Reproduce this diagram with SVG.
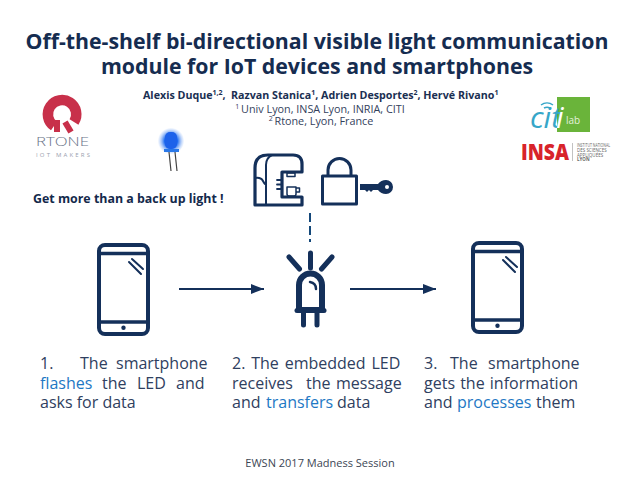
<svg xmlns="http://www.w3.org/2000/svg" width="640" height="480" viewBox="0 0 640 480">
<style>
text{font-family:"Open Sans","DejaVu Sans",sans-serif;fill:#14294b}
.title{font-size:21.3px;font-weight:700;text-anchor:middle;fill:#152c50}
.auth{font-size:10.7px;font-weight:700;fill:#1a2f52}
.aff{font-size:10.8px;text-anchor:middle;fill:#33415c}
.body{font-size:16px;fill:#2f4060}
.hl{fill:#1e78c4}
.ln{fill:none;stroke:#14305a;stroke-linecap:round;stroke-linejoin:round}
.fl{fill:#14305a}
.red{fill:none;stroke:#c8304a}
.sm{font-size:4.500px;fill:#666}
</style>
<defs>
<marker id="ah" markerUnits="userSpaceOnUse" markerWidth="13" markerHeight="10" refX="13" refY="5" orient="auto"><path d="M0 0L13 5L0 10Z" fill="#14305a"/></marker>
<g id="phone">
<rect x="2" y="2" width="49" height="89" rx="6" class="ln" stroke-width="4"/>
<path d="M2 10.500H51M2 79H51" class="ln" stroke-width="3.500"/>
<path d="M32 19L44 31M35 16L46 26" class="ln" stroke-width="2"/>
<circle cx="26.500" cy="84.700" r="2.200" class="fl"/>
</g>
<radialGradient id="glow"><stop offset="0.5" stop-color="#1f6cf0"/><stop offset="1" stop-color="#9cc0f8" stop-opacity="0.1"/></radialGradient>
</defs>

<g id="title">
<text class="title" x="317" y="49">Off-the-shelf bi-directional visible light communication</text>
<text class="title" x="317" y="74">module for IoT devices and smartphones</text>
</g>
<g id="authors">
<text class="auth" x="143" y="99">Alexis Duque<tspan font-size="7" dy="-4">1,2</tspan><tspan dy="4">,</tspan><tspan x="231">Razvan Stanica</tspan><tspan font-size="7" dy="-4">1</tspan><tspan dy="4">, Adrien Desportes</tspan><tspan font-size="7" dy="-4">2</tspan><tspan dy="4">, Hervé Rivano</tspan><tspan font-size="7" dy="-4">1</tspan></text>
<text class="aff" x="320" y="113"><tspan font-size="7" dy="-4">1 </tspan><tspan dy="4">Univ Lyon, INSA Lyon, INRIA, CITI</tspan></text>
<text class="aff" x="321" y="125"><tspan font-size="7" dy="-4">2 </tspan><tspan dy="4">Rtone, Lyon, France</tspan></text>
</g>

<g id="rtone-logo">
<path d="M54 126A14.200 14.200 0 1 1 74 122" class="red" stroke-width="10.500"/>
<path d="M54 120H60V132H54Z" fill="#c8304a"/>
<path d="M65 122L71 132" class="red" stroke-width="6"/>
<text x="36" y="146" font-size="12" textLength="53" lengthAdjust="spacingAndGlyphs" style="fill:#6a7488;font-weight:300">RTONE</text>
<text x="36" y="157" font-size="6" textLength="54" style="fill:#9aa0ae">IOT MAKERS</text>
</g>

<g id="blue-led">
<circle cx="171" cy="141" r="13" fill="url(#glow)"/>
<rect x="165" y="132" width="12" height="17" rx="5" fill="#1d62ea"/>
<rect x="164" y="149" width="15" height="3" fill="#2a78e8"/>
<path d="M169 152L171 171M175 152L177 171" stroke="#444" stroke-width="1.200" fill="none"/>
</g>
<text id="tagline" x="33" y="203" font-size="12.400" font-weight="700">Get more than a back up light !</text>

<g id="citi-logo">
<rect x="557" y="97" width="33" height="35" fill="#6ab43a"/>
<text x="530" y="128" font-size="30" font-style="italic" style="fill:#36a6c8">cit</text>
<text x="556" y="128" font-size="30" font-style="italic" style="fill:#fff">i</text>
<text x="566" y="124" font-size="10" style="fill:#e4f0dc">lab</text>
<path d="M541 105A10 10 0 0 1 553 105M544 108A6 6 0 0 1 550 108" fill="none" stroke="#36a6c8" stroke-width="1.500"/>
</g>
<g id="insa-logo">
<text x="521" y="160" font-size="23" font-weight="800" textLength="48" lengthAdjust="spacingAndGlyphs" style="fill:#d8232a">INSA</text>
<path d="M572.500 143V161" stroke="#999" stroke-width="0.600"/>
<text class="sm" x="577" y="146.500" textLength="33" lengthAdjust="spacingAndGlyphs">INSTITUT NATIONAL</text>
<text class="sm" x="577" y="151.500">DES SCIENCES</text>
<text class="sm" x="577" y="156.500">APPLIQUÉES</text>
<text class="sm" x="577" y="161" font-weight="700">LYON</text>
</g>

<g id="coffee-machine">
<path d="M255 205V168Q255 155 268 155H293Q302 155 302 164V172H282V197H302V205Z" class="ln" stroke-width="3.200"/>
<path d="M266 205V165Q266 158 272 155M255 178Q261 177 263 181T266 184" class="ln" stroke-width="2"/>
<path d="M277 180H282M277 184.500H282M277 189H282" class="ln" stroke-width="1.800"/>
<rect x="287" y="173" width="8" height="3.500" class="ln" stroke-width="1.500"/>
<path d="M287 187H296V194Q296 196 294 196H289Q287 196 287 194Z M296 188H299.500V192H296" class="ln" stroke-width="1.500"/>
</g>
<g id="lock">
<rect x="322.500" y="176" width="34" height="28" class="ln" stroke-width="3" stroke-linecap="butt"/>
<path d="M328 175V170A11.500 11.500 0 0 1 351 170V175" class="ln" stroke-width="3"/>
</g>
<g id="key">
<path d="M360 184H378Q381 180 386 180A7 7 0 0 1 386 194Q381 194 378 190H373L371 192L369 190L367 192L365 190H360Z" class="fl"/>
<circle cx="387" cy="187" r="2" fill="#fff"/>
</g>
<g id="phone-left"><use href="#phone" x="97" y="243"/></g>
<g id="phone-right"><use href="#phone" x="471" y="241"/></g>
<g id="led">
<path d="M299 310V285A11.500 11.500 0 0 1 322 285V310Z" class="ln" stroke-width="6"/>
<path d="M297 310.500H324" class="ln" stroke-width="5"/>
<path d="M303.500 313V325M317 313V325" class="ln" stroke-width="5"/>
<path d="M310.500 253V268M289 257L299.500 269M332 257L321.500 269" class="ln" stroke-width="5"/>
<path d="M310 282Q316 283 316 289" class="ln" stroke-width="2.500"/>
</g>
<g id="connectors">
<path d="M179 289H264" stroke="#14305a" stroke-width="2" fill="none" marker-end="url(#ah)"/>
<path d="M350 289H436" stroke="#14305a" stroke-width="2" fill="none" marker-end="url(#ah)"/>
<path d="M310 213V242" stroke="#14487a" stroke-width="2" fill="none" stroke-dasharray="9 4"/>
</g>
<g id="step1">
<text class="body" x="40" y="369">1.</text><text class="body" x="80" y="369">The</text><text class="body" x="116" y="369">smartphone</text>
<text class="body hl" x="40" y="389">flashes</text><text class="body" x="102" y="389">the</text><text class="body" x="137" y="389">LED</text><text class="body" x="176" y="389">and</text>
<text class="body" x="40" y="408">asks for data</text>
</g>
<g id="step2">
<text class="body" x="232" y="369" word-spacing="1.700">2. The embedded LED</text>
<text class="body" x="232" y="389">receives</text><text class="body" x="306" y="389">the</text><text class="body" x="336" y="389">message</text>
<text class="body" x="232" y="408">and</text><text class="body hl" x="266" y="408">transfers</text><text class="body" x="337" y="408">data</text>
</g>
<g id="step3">
<text class="body" x="424" y="369">3.</text><text class="body" x="450" y="369">The</text><text class="body" x="488" y="369">smartphone</text>
<text class="body" x="424" y="389" word-spacing="1">gets the information</text>
<text class="body" x="424" y="408">and</text><text class="body hl" x="457" y="408">processes</text><text class="body" x="536" y="408">them</text>
</g>
<text id="footer" x="320" y="467" font-size="11" text-anchor="middle" style="fill:#3c4654">EWSN 2017 Madness Session</text>
</svg>
